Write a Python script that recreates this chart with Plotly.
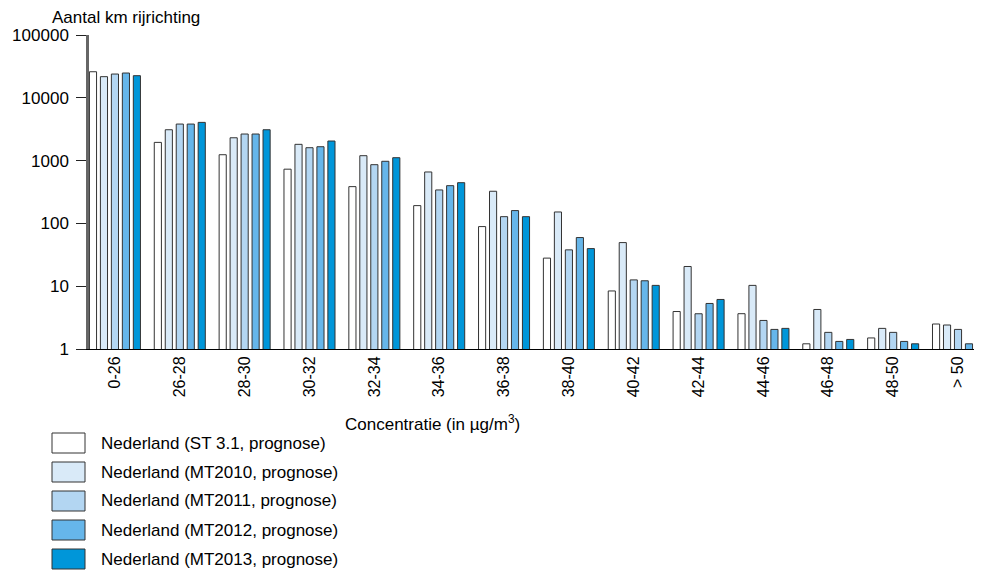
import plotly.graph_objects as go

categories = ["0-26", "26-28", "28-30", "30-32", "32-34", "34-36", "36-38", "38-40",
              "40-42", "42-44", "44-46", "46-48", "48-50", "> 50"]

series_names = ["Nederland (ST 3.1, prognose)", "Nederland (MT2010, prognose)",
                "Nederland (MT2011, prognose)", "Nederland (MT2012, prognose)",
                "Nederland (MT2013, prognose)"]

st31 = [26000, 1950, 1240, 730, 385, 192, 89, 28, 8.4, 3.95, 3.65, 1.21, 1.50, 2.50]
mt2010 = [21700, 3100, 2310, 1816, 1197, 659, 325, 152, 49.5, 20.6, 10.3, 4.26, 2.13, 2.41]
mt2011 = [23900, 3820, 2650, 1604, 861, 341, 128, 37.9, 12.6, 3.64, 2.85, 1.84, 1.84, 2.05]
mt2012 = [24800, 3820, 2650, 1663, 975, 399, 160, 59.5, 12.2, 5.31, 2.05, 1.32, 1.32, 1.21]
mt2013 = [22500, 4060, 3100, 2050, 1112, 445, 128, 39.7, 10.3, 6.15, 2.13, 1.42, 1.21, 1.21]

colors = ["#ffffff", "#d9eaf8", "#b3d6f2", "#66b6ea", "#0096d9"]

ytick_vals = [1, 10, 100, 1000, 10000, 100000]
ytick_text = ["1", "10", "100", "1000", "10000", "100000"]

# page body has an 8px margin: figure coordinates = window coordinates - 8
OFF = 8
W, H = 982 - OFF, 570 - OFF
L = 89 - OFF
T = 35 - OFF
BOTTOM = 349 - OFF
R = 0
B = H - BOTTOM
PW, PH = W - L - R, BOTTOM - T

def px(x):
    return (x - OFF - L) / PW

def py(y):
    return (BOTTOM - (y - OFF)) / PH

FONT = "Liberation Sans, Arial, sans-serif"
FS = 17

fig = go.Figure()
all_series = [st31, mt2010, mt2011, mt2012, mt2013]
for name, vals, col in zip(series_names, all_series, colors):
    fig.add_trace(go.Bar(x=categories, y=vals, name=name,
                         marker=dict(color=col, line=dict(color="#333333", width=1)),
                         showlegend=False, cliponaxis=True))

fig.update_layout(
    width=W, height=H,
    margin=dict(l=L, r=R, t=T, b=B, pad=0),
    paper_bgcolor="white", plot_bgcolor="white",
    barmode="group", bargap=0.154, bargroupgap=0.35,
    font=dict(family=FONT, size=FS, color="#000000"),
    xaxis=dict(range=[-0.4, 13.37], showline=True, linecolor="#000000", linewidth=1,
               ticks="", tickangle=-90, tickfont=dict(size=16), showgrid=False,
               zeroline=False),
    yaxis=dict(type="log", range=[0, 5], showline=True, linecolor="#666666", linewidth=2.5,
               ticks="outside", ticklen=10, tickcolor="#222222", tickwidth=1,
               ticklabelstandoff=4,
               tickvals=ytick_vals, ticktext=ytick_text, tickfont=dict(size=FS),
               showgrid=False, zeroline=False),
)

annotations = [
    dict(text="Aantal km rijrichting", x=px(50), y=py(17), xanchor="left", yanchor="middle"),
    dict(text="Concentratie (in µg/m<sup>3</sup>)", x=px(432), y=py(423), xanchor="center",
         yanchor="middle"),
]
shapes = []
for i, (name, col) in enumerate(zip(series_names, colors)):
    top = 433 + 29 * i
    shapes.append(dict(type="rect", xref="paper", yref="paper", x0=px(52), x1=px(85),
                       y0=py(top), y1=py(top + 20), fillcolor=col,
                       line=dict(color="#333333", width=1)))
    annotations.append(dict(text=name, x=px(99), y=py(top + 10), xanchor="left",
                            yanchor="middle"))
for a in annotations:
    a.update(xref="paper", yref="paper", showarrow=False, font=dict(family=FONT, size=FS))
fig.update_layout(annotations=annotations, shapes=shapes)

fig.write_html("out.html")
